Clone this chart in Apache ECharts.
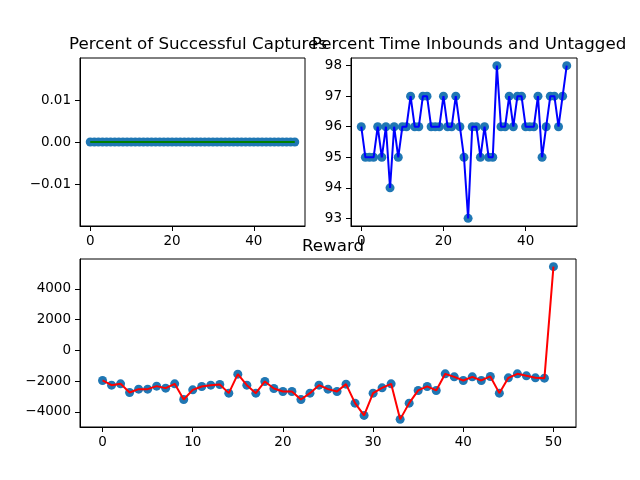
<!DOCTYPE html>
<html>
<head>
<meta charset="utf-8">
<script src="https://cdn.jsdelivr.net/npm/echarts@6/dist/echarts.min.js"></script>
<style>
  html, body { margin: 0; padding: 0; background: #fff; }
  #main { width: 640px; height: 480px; }
</style>
</head>
<body>
<div id="main"></div>
<script>
// episode data (episodes 0..50)
var captures = [0,0,0,0,0,0,0,0,0,0,0,0,0,0,0,0,0,0,0,0,0,0,0,0,0,0,0,0,0,0,0,0,0,0,0,0,0,0,0,0,0,0,0,0,0,0,0,0,0,0,0];
var inbounds = [96,95,95,95,96,95,96,94,96,95,96,96,97,96,96,97,97,96,96,96,97,96,96,97,96,95,93,96,96,95,96,95,95,98,96,96,97,96,97,97,96,96,96,97,95,96,97,97,96,97,98];
var reward = [-1950,-2255,-2170,-2730,-2515,-2515,-2320,-2450,-2170,-3185,
              -2560,-2340,-2255,-2210,-2775,-1540,-2255,-2775,-2015,-2470,
              -2665,-2665,-3185,-2775,-2255,-2515,-2665,-2190,-3425,-4225,
              -2775,-2430,-2170,-4480,-3425,-2600,-2340,-2600,-1520,-1715,
              -1950,-1715,-1950,-1690,-2775,-1780,-1520,-1650,-1780,-1800,
              5450];

var titles = ['Percent of Successful Captures', 'Percent Time Inbounds and Untagged', 'Reward'];
var xTicksTop = [0, 20, 40];
var xTicksBottom = [0, 10, 20, 30, 40, 50];
var yTicksCaptures = [-0.01, 0, 0.01];
var yTicksInbounds = [93, 94, 95, 96, 97, 98];
var yTicksReward = [-4000, -2000, 0, 2000, 4000];

function pairs(arr) {
    var out = [];
    for (var i = 0; i < arr.length; i++) out.push([i, arr[i]]);
    return out;
}
function span(arr) {
    var lo = Math.min.apply(null, arr), hi = Math.max.apply(null, arr);
    var m = (hi - lo) * 0.05;
    return [lo - m, hi + m];
}
function fmt(v) {
    var s = (Math.abs(v) < 1 && v !== 0) ? Math.abs(v).toFixed(2) : String(Math.abs(v));
    return (v < 0 ? '\u2212' : '') + s;
}

var font = 'DejaVu Sans';
var tickFont = 13.5;
var titleFont = 16.7;

function xAxis(idx, ticks) {
    return {
        type: 'value', gridIndex: idx, min: -2.5, max: 52.5,
        axisLine: { show: true, onZero: false, lineStyle: { color: '#000', width: 1 } },
        axisTick: { show: true, inside: false, length: 5, lineStyle: { color: '#000' }, customValues: ticks },
        axisLabel: { customValues: ticks, color: '#000', fontFamily: font, fontSize: tickFont, margin: 8,
                     formatter: function (v) { return fmt(v); } },
        splitLine: { show: false }
    };
}
function yAxis(idx, ticks, range, dec) {
    return {
        type: 'value', gridIndex: idx, min: range[0], max: range[1],
        axisLine: { show: true, onZero: false, lineStyle: { color: '#000', width: 1 } },
        axisTick: { show: true, inside: false, length: 5, lineStyle: { color: '#000' }, customValues: ticks },
        axisLabel: { customValues: ticks, color: '#000', fontFamily: font, fontSize: tickFont, margin: 9,
                     formatter: function (v) { return (dec && v === 0) ? '0.00' : fmt(v); } },
        splitLine: { show: false }
    };
}
function markers(idx, arr) {
    return {
        type: 'scatter', xAxisIndex: idx, yAxisIndex: idx, data: pairs(arr),
        symbol: 'circle', symbolSize: 9, itemStyle: { color: '#1f77b4', opacity: 1 }, z: 2, silent: true
    };
}
function trace(idx, arr, color) {
    return {
        type: 'line', xAxisIndex: idx, yAxisIndex: idx, data: pairs(arr),
        showSymbol: false, lineStyle: { color: color, width: 2 }, z: 3, silent: true
    };
}
function heading(text, x, y) {
    return { text: text, left: x, top: y, textAlign: 'center',
             textStyle: { fontFamily: font, fontSize: titleFont, fontWeight: 'normal', color: '#000' } };
}

var chart = echarts.init(document.getElementById('main'), null, { renderer: 'canvas' });
var gridStyle = { show: true, borderColor: '#000', borderWidth: 1, backgroundColor: '#fff', containLabel: false };
var option = {
    animation: false,
    backgroundColor: '#fff',
    title: [
        heading(titles[0], 193, 31),
        heading(titles[1], 464, 31),
        heading(titles[2], 328, 233)
    ],
    grid: [
        Object.assign({ left: 80, top: 58, width: 225, height: 168 }, gridStyle),
        Object.assign({ left: 351, top: 58, width: 226, height: 168 }, gridStyle),
        Object.assign({ left: 80, top: 259, width: 496, height: 168 }, gridStyle)
    ],
    xAxis: [xAxis(0, xTicksTop), xAxis(1, xTicksTop), xAxis(2, xTicksBottom)],
    yAxis: [
        yAxis(0, yTicksCaptures, [-0.02, 0.02], true),
        yAxis(1, yTicksInbounds, span(inbounds), false),
        yAxis(2, yTicksReward, span(reward), false)
    ],
    series: [
        markers(0, captures), trace(0, captures, '#008000'),
        markers(1, inbounds), trace(1, inbounds, '#0000ff'),
        markers(2, reward), trace(2, reward, '#ff0000')
    ]
};
chart.setOption(option);
</script>
</body>
</html>
